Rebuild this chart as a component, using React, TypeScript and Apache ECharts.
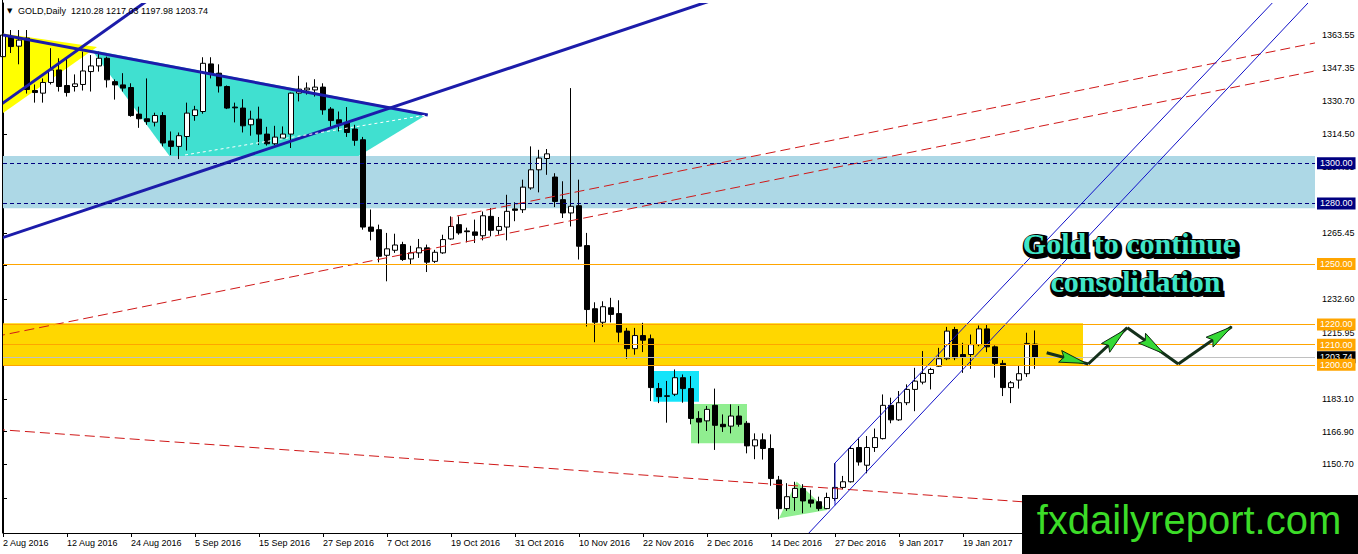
import React, { useEffect, useRef } from 'react';
import * as echarts from 'echarts';

// ---------- data ----------
const dateLabels = ['2 Aug 2016', '12 Aug 2016', '24 Aug 2016', '5 Sep 2016', '15 Sep 2016', '27 Sep 2016', '7 Oct 2016', '19 Oct 2016', '31 Oct 2016', '10 Nov 2016', '22 Nov 2016', '2 Dec 2016', '14 Dec 2016', '27 Dec 2016', '9 Jan 2017', '19 Jan 2017'];
const BARS_PER_LABEL = 8;
const SLOT_COUNT = 165;

const opens = [
  1352.8, 1362.7, 1358.0, 1362.0, 1336.0, 1334.7, 1340.0, 1346.2, 1338.5, 1338.0,
  1339.0, 1345.4, 1348.2, 1352.0, 1340.4, 1338.8, 1337.5, 1324.3, 1322.0, 1320.3,
  1323.6, 1311.0, 1308.3, 1313.2, 1323.6, 1325.6, 1349.2, 1344.6, 1338.0, 1327.8,
  1327.3, 1319.0, 1321.8, 1314.4, 1309.6, 1312.4, 1314.4, 1334.7, 1336.3, 1336.3,
  1337.7, 1326.8, 1321.5, 1320.2, 1316.9, 1311.6, 1268.3, 1267.0, 1254.3, 1256.8,
  1259.6, 1252.5, 1255.5, 1258.0, 1251.3, 1255.5, 1262.4, 1269.5, 1266.4, 1265.9,
  1264.0, 1273.6, 1266.7, 1268.3, 1277.3, 1276.9, 1287.7, 1296.7, 1302.3, 1293.1,
  1281.9, 1275.3, 1278.9, 1259.1, 1227.8, 1221.1, 1228.3, 1225.4, 1216.7, 1208.0,
  1214.5, 1212.9, 1188.2, 1184.6, 1185.4, 1193.6, 1188.2, 1173.4, 1172.2, 1179.9,
  1170.5, 1169.6, 1174.6, 1171.0, 1159.8, 1162.8, 1158.5, 1142.9, 1128.7, 1134.2,
  1138.7, 1133.0, 1132.1, 1128.7, 1133.7, 1139.2, 1142.0, 1159.0, 1150.2, 1159.0,
  1163.4, 1179.9, 1172.7, 1181.2, 1187.8, 1191.4, 1195.7, 1199.3, 1203.0, 1217.5,
  1205.1, 1205.1, 1210.0, 1217.8, 1208.9, 1200.7, 1188.7, 1192.4, 1195.6, 1210.28,
];
const closes = [
  1363.5, 1357.8, 1361.0, 1336.5, 1335.0, 1340.0, 1346.2, 1338.0, 1335.0, 1339.3,
  1345.7, 1348.2, 1352.0, 1341.3, 1338.8, 1337.2, 1323.6, 1322.0, 1320.6, 1323.6,
  1310.0, 1308.3, 1313.6, 1324.8, 1326.4, 1349.5, 1344.6, 1338.3, 1327.3, 1327.4,
  1318.5, 1321.8, 1314.4, 1309.6, 1312.9, 1314.4, 1334.7, 1336.7, 1337.2, 1337.7,
  1326.4, 1321.1, 1319.5, 1315.2, 1311.3, 1268.3, 1266.2, 1253.8, 1257.5, 1259.4,
  1252.2, 1255.5, 1258.0, 1250.9, 1255.8, 1262.1, 1268.6, 1265.4, 1266.0, 1264.2,
  1273.9, 1266.7, 1268.6, 1276.1, 1276.6, 1288.1, 1296.7, 1302.5, 1304.6, 1281.0,
  1275.3, 1278.6, 1258.8, 1227.4, 1221.1, 1228.8, 1225.0, 1216.2, 1208.0, 1214.5,
  1212.2, 1188.7, 1184.2, 1184.4, 1193.6, 1188.2, 1173.4, 1171.6, 1177.9, 1170.0,
  1169.3, 1174.6, 1170.5, 1159.8, 1162.8, 1158.5, 1143.6, 1128.7, 1134.6, 1138.7,
  1132.5, 1131.4, 1128.7, 1134.2, 1139.2, 1142.0, 1158.5, 1151.8, 1159.0, 1163.9,
  1179.9, 1172.7, 1181.2, 1187.8, 1191.9, 1195.7, 1197.7, 1203.0, 1216.7, 1203.5,
  1203.9, 1210.0, 1217.8, 1208.9, 1200.7, 1188.7, 1191.1, 1195.6, 1210.6, 1203.74,
];
const lows = [
  1347.0, 1354.6, 1349.0, 1334.5, 1330.0, 1330.0, 1339.0, 1335.5, 1333.0, 1335.5,
  1336.0, 1335.5, 1345.4, 1337.5, 1331.5, 1335.5, 1323.0, 1317.5, 1319.0, 1318.2,
  1308.3, 1304.0, 1302.0, 1306.3, 1321.0, 1324.5, 1342.0, 1335.0, 1326.8, 1320.2,
  1315.2, 1313.6, 1309.0, 1308.7, 1309.0, 1312.0, 1307.5, 1330.6, 1334.0, 1333.0,
  1324.0, 1318.0, 1315.7, 1313.0, 1308.6, 1267.0, 1261.7, 1250.8, 1241.4, 1255.5,
  1251.5, 1249.7, 1253.0, 1246.0, 1250.5, 1255.0, 1262.0, 1264.5, 1260.7, 1260.4,
  1261.7, 1263.7, 1264.5, 1261.7, 1271.2, 1275.3, 1286.8, 1285.5, 1294.2, 1278.2,
  1272.8, 1268.6, 1252.2, 1219.0, 1211.2, 1218.8, 1221.0, 1211.2, 1203.0, 1205.0,
  1206.3, 1182.0, 1181.0, 1171.3, 1184.5, 1181.2, 1170.5, 1161.0, 1167.2, 1157.8,
  1166.7, 1166.0, 1169.3, 1156.1, 1153.2, 1153.0, 1140.0, 1123.4, 1127.6, 1127.6,
  1126.4, 1129.3, 1127.6, 1128.4, 1132.5, 1138.3, 1141.6, 1150.0, 1146.2, 1156.8,
  1163.0, 1171.0, 1172.2, 1180.0, 1177.0, 1190.3, 1187.8, 1199.0, 1202.3, 1202.3,
  1196.0, 1198.0, 1209.2, 1206.3, 1193.6, 1184.5, 1181.0, 1188.2, 1194.0, 1197.98,
];
const highs = [
  1366.0, 1366.0, 1366.0, 1366.0, 1339.0, 1342.0, 1357.0, 1352.0, 1352.0, 1344.0,
  1355.3, 1353.6, 1355.3, 1352.8, 1341.5, 1344.6, 1339.6, 1328.0, 1342.0, 1325.0,
  1325.3, 1315.7, 1315.2, 1330.0, 1328.4, 1352.5, 1352.5, 1349.0, 1338.5, 1330.0,
  1331.7, 1326.0, 1328.0, 1318.0, 1318.5, 1318.2, 1335.0, 1343.3, 1340.0, 1341.6,
  1339.6, 1327.8, 1325.6, 1327.8, 1319.0, 1313.0, 1277.0, 1269.5, 1265.4, 1265.0,
  1261.0, 1259.0, 1262.4, 1259.6, 1257.0, 1264.5, 1273.6, 1273.6, 1268.0, 1272.0,
  1276.0, 1277.7, 1273.3, 1284.3, 1280.6, 1291.8, 1308.3, 1306.6, 1307.0, 1295.0,
  1291.0, 1337.2, 1291.8, 1265.4, 1231.0, 1231.5, 1233.2, 1232.0, 1218.3, 1218.3,
  1220.8, 1215.0, 1191.0, 1192.0, 1197.7, 1195.2, 1194.4, 1177.0, 1179.6, 1188.2,
  1175.4, 1180.4, 1179.6, 1172.1, 1166.0, 1166.0, 1165.5, 1144.9, 1141.3, 1142.0,
  1140.8, 1138.0, 1134.6, 1136.6, 1151.2, 1144.9, 1159.8, 1163.9, 1164.7, 1168.4,
  1185.3, 1183.7, 1187.0, 1190.3, 1198.5, 1206.8, 1198.5, 1208.4, 1218.8, 1218.8,
  1210.9, 1215.0, 1219.5, 1219.9, 1209.6, 1202.3, 1192.0, 1199.7, 1215.9, 1217.03,
];

const priceTicks = [1363.55, 1347.35, 1330.7, 1314.5, 1297.85, 1265.45, 1249.25, 1232.6, 1215.95, 1183.1, 1166.9, 1150.7, 1134.05];
const Y_MIN = 1116.6;
const Y_MAX = 1379.4;

// horizontal levels (price, kind)
const levelValues = [1300, 1280, 1250, 1220, 1210, 1203.74, 1200];
const levelKinds = ['navy', 'navy', 'orange', 'orange', 'orange', 'bid', 'orange'];

// drawn zones in [bar index, price]
const zones = [
  { name: 'yellow', pts: [[-0.5, 1364.5], [11.75, 1357.6], [-0.5, 1323.4]] },
  { name: 'turquoise', pts: [[11.1, 1356.1], [53.1, 1324.4], [44.25, 1303.1], [20.9, 1303.1]] },
  { name: 'lightblue', pts: [[-1, 1303.56], [166, 1303.56], [166, 1277.63], [-1, 1277.63]] },
  { name: 'gold', pts: [[-1, 1220.6], [135, 1220.6], [135, 1199.6], [-1, 1199.6]] },
  { name: 'aqua', pts: [[81.3, 1196.9], [87.0, 1196.9], [87.0, 1181.7], [81.3, 1181.7]] },
  { name: 'lightgreen', pts: [[86.0, 1180.6], [93.0, 1180.6], [93.0, 1161.1], [86.0, 1161.1]] },
  { name: 'lightgreen', pts: [[97.0, 1123.9], [99.2, 1142.1], [103.0, 1128.0]] },
];
const zoneColors: Record<string, string> = {
  yellow: '#FFFF00',
  turquoise: '#40E0D0',
  lightblue: '#ADD8E6',
  gold: '#FFD700',
  aqua: '#14E4FA',
  lightgreen: '#90EE90',
};

// trend lines in [bar index, price]
const trendLines = [
  { kind: 'blueThick', pts: [[0, 1363.55], [53.1, 1323.9]] },
  { kind: 'blueThick', pts: [[-1, 1261.8], [95, 1389.2]] },
  { kind: 'blueThick', pts: [[-1, 1327.0], [20, 1386.1]] },
  { kind: 'redDash', pts: [[-1, 1214.0], [166, 1347.3]] },
  { kind: 'redDash', pts: [[56.125, 1268.35], [56.125, 1273.3], [166, 1361.2]] },
  { kind: 'redDash', pts: [[-1, 1168.0], [166, 1121.3]] },
  { kind: 'blueThin', pts: [[104, 1130.3], [104, 1151.3], [160, 1385.0]] },
  { kind: 'blueThin', pts: [[100.0, 1113.5], [164, 1383.1]] },
  { kind: 'whiteDash', pts: [[22.75, 1304.05], [53, 1323.9]] },
];
const lineStyles: Record<string, any> = {
  blueThick: { stroke: '#1C1CAA', lineWidth: 3 },
  redDash: { stroke: '#D01818', lineWidth: 1, lineDash: [10, 5] },
  blueThin: { stroke: '#1010C8', lineWidth: 1 },
  whiteDash: { stroke: '#FFFFFF', lineWidth: 1, lineDash: [3, 3] },
};

// projected zig-zag path
const zigzagIdx = [130.46, 135.66, 140.54, 146.91, 153.59];
const zigzagPrice = [1206.0, 1200.4, 1218.4, 1200.4, 1218.9];
const arrowTipAt = [0.95, 0.95, 0.72, 1.0];

// ---------- option ----------
const categories = Array.from({ length: SLOT_COUNT }, (_, i) =>
  i % BARS_PER_LABEL === 0 && dateLabels[i / BARS_PER_LABEL] ? dateLabels[i / BARS_PER_LABEL] : ''
);
const candleData = opens.map((o, i) => [o, closes[i], lows[i], highs[i]]);

const FONT = '"Liberation Sans", Arial, sans-serif';

const levelLook: Record<string, any> = {
  navy: { line: { color: '#000080', type: [4, 3], width: 1 }, bg: '#000080' },
  orange: { line: { color: '#FFA500', type: 'solid', width: 1 }, bg: '#FFA500' },
  bid: { line: { color: '#C0C0C0', type: 'solid', width: 1 }, bg: '#000000' },
};

function buildOption(): any {
  return {
    animation: false,
    backgroundColor: '#ffffff',
    grid: { left: 3, right: 43, top: 3, bottom: 21 },
    xAxis: [
      {
        type: 'category',
        data: categories,
        boundaryGap: false,
        axisLine: { lineStyle: { color: '#000', width: 1 } },
        axisTick: { interval: (i: number) => i % BARS_PER_LABEL === 0, length: 4, lineStyle: { color: '#000' } },
        axisLabel: {
          interval: (i: number) => i % BARS_PER_LABEL === 0,
          align: 'left',
          margin: 5,
          fontSize: 9,
          fontFamily: FONT,
          color: '#000',
        },
        splitLine: { show: false },
      },
      { type: 'value', min: 0, max: SLOT_COUNT - 1, show: false },
    ],
    yAxis: {
      type: 'value',
      position: 'right',
      min: Y_MIN,
      max: Y_MAX,
      axisLine: { show: true, lineStyle: { color: '#000', width: 1 } },
      axisTick: { show: true, length: 4, customValues: priceTicks, lineStyle: { color: '#000' } },
      axisLabel: {
        customValues: priceTicks,
        formatter: (v: number) => v.toFixed(2),
        margin: 7,
        fontSize: 9,
        fontFamily: FONT,
        color: '#000',
      },
      splitLine: { show: false },
    },
    series: [
      {
        type: 'custom',
        xAxisIndex: 1,
        yAxisIndex: 0,
        z: 1,
        silent: true,
        clip: true,
        data: zones.map(() => [0, 1200]),
        renderItem: (params: any, api: any) => {
          const zone = zones[params.dataIndex];
          return {
            type: 'polygon',
            shape: { points: zone.pts.map((p) => api.coord(p)) },
            style: { fill: zoneColors[zone.name] },
          };
        },
      },
      {
        type: 'line',
        xAxisIndex: 1,
        yAxisIndex: 0,
        z: 2,
        data: [[0, 1200]],
        symbol: 'none',
        showSymbol: false,
        lineStyle: { opacity: 0 },
        silent: true,
        clip: false,
        markLine: {
          silent: true,
          symbol: ['none', 'none'],
          emphasis: { disabled: true },
          data: levelValues.map((v, i) => ({
            yAxis: v,
            lineStyle: levelLook[levelKinds[i]].line,
            label: {
              show: true,
              position: 'end',
              distance: 2,
              formatter: v.toFixed(2),
              color: '#fff',
              backgroundColor: levelLook[levelKinds[i]].bg,
              padding: [1, 3, 0, 3],
              fontSize: 9,
              lineHeight: 11,
              fontFamily: FONT,
            },
          })),
        },
      },
      {
        type: 'candlestick',
        xAxisIndex: 0,
        yAxisIndex: 0,
        z: 3,
        barWidth: 5,
        data: candleData,
        itemStyle: {
          color: '#ffffff',
          color0: '#000000',
          borderColor: '#000000',
          borderColor0: '#000000',
          borderWidth: 1,
        },
        silent: true,
      },
      {
        type: 'custom',
        xAxisIndex: 1,
        yAxisIndex: 0,
        z: 4,
        silent: true,
        clip: true,
        data: trendLines.map(() => [0, 1200]),
        renderItem: (params: any, api: any) => {
          const tl = trendLines[params.dataIndex];
          return {
            type: 'polyline',
            shape: { points: tl.pts.map((p) => api.coord(p)) },
            style: { fill: null, ...lineStyles[tl.kind] },
          };
        },
      },
      {
        type: 'custom',
        xAxisIndex: 1,
        yAxisIndex: 0,
        z: 5,
        silent: true,
        clip: false,
        data: [[0, 1200]],
        renderItem: (params: any, api: any) => {
          const pts = zigzagIdx.map((x, i) => api.coord([x, zigzagPrice[i]]));
          const children: any[] = [];
          for (let k = 0; k < pts.length - 1; k++) {
            const a = pts[k];
            const b = pts[k + 1];
            children.push({
              type: 'line',
              shape: { x1: a[0], y1: a[1], x2: b[0], y2: b[1] },
              style: { stroke: '#14301A', lineWidth: 3 },
            });
          }
          for (let k = 0; k < pts.length - 1; k++) {
            const a = pts[k];
            const b = pts[k + 1];
            const dx = b[0] - a[0];
            const dy = b[1] - a[1];
            const len = Math.sqrt(dx * dx + dy * dy);
            const ux = dx / len;
            const uy = dy / len;
            const t = arrowTipAt[k];
            const tip = [a[0] + dx * t, a[1] + dy * t];
            const L = 27;
            const W = 6;
            const base = [tip[0] - ux * L, tip[1] - uy * L];
            const nx = -uy;
            const ny = ux;
            children.push({
              type: 'polygon',
              shape: {
                points: [
                  tip,
                  [base[0] + nx * W, base[1] + ny * W],
                  [base[0] + ux * 4, base[1] + uy * 4],
                  [base[0] - nx * W, base[1] - ny * W],
                ],
              },
              style: { fill: '#36D936', stroke: '#0E2A12', lineWidth: 1 },
            });
          }
          return { type: 'group', children };
        },
      },
    ],
    graphic: [
      {
        type: 'line',
        shape: { x1: 2.5, y1: 0, x2: 2.5, y2: 533 },
        style: { stroke: '#000', lineWidth: 1 },
        z: 50,
        silent: true,
      },
      {
        type: 'text',
        x: 7,
        y: 10.5,
        style: { text: '▼', font: '7px "DejaVu Sans", sans-serif', fill: '#000', verticalAlign: 'middle' },
        z: 50,
        silent: true,
      },
      {
        type: 'text',
        x: 18,
        y: 10.5,
        style: {
          text: 'GOLD,Daily  1210.28 1217.03 1197.98 1203.74',
          font: '9px ' + FONT,
          fill: '#000',
          verticalAlign: 'middle',
        },
        z: 50,
        silent: true,
      },
      // headline text (outline + fill)
      {
        type: 'text', x: 1131, y: 245,
        style: { text: 'Gold to continue', font: 'bold 30px "Liberation Serif", serif', fill: '#000', stroke: '#000', lineWidth: 6, align: 'center', verticalAlign: 'middle' },
        z: 60, silent: true,
      },
      {
        type: 'text', x: 1129.5, y: 243.5,
        style: { text: 'Gold to continue', font: 'bold 30px "Liberation Serif", serif', fill: '#40E6C8', align: 'center', verticalAlign: 'middle' },
        z: 61, silent: true,
      },
      {
        type: 'text', x: 1137, y: 283,
        style: { text: 'consolidation', font: 'bold 30px "Liberation Serif", serif', fill: '#000', stroke: '#000', lineWidth: 6, align: 'center', verticalAlign: 'middle' },
        z: 60, silent: true,
      },
      {
        type: 'text', x: 1135.5, y: 281.5,
        style: { text: 'consolidation', font: 'bold 30px "Liberation Serif", serif', fill: '#40E6C8', align: 'center', verticalAlign: 'middle' },
        z: 61, silent: true,
      },
      // watermark box
      {
        type: 'rect',
        shape: { x: 1022, y: 495, width: 336, height: 59 },
        style: { fill: '#000' },
        z: 70,
        silent: true,
      },
      {
        type: 'text',
        x: 1189,
        y: 520,
        style: { text: 'fxdailyreport.com', font: '40px ' + FONT, fill: '#3CDC28', align: 'center', verticalAlign: 'middle' },
        z: 71,
        silent: true,
      },
    ],
  };
}

export default function App() {
  const ref = useRef<HTMLDivElement>(null);
  useEffect(() => {
    document.body.style.margin = '0';
    const chart = echarts.init(ref.current as HTMLDivElement, null, { renderer: 'svg' });
    chart.setOption(buildOption());
    return () => {
      chart.dispose();
    };
  }, []);
  return (
    <div
      ref={ref}
      style={{ position: 'absolute', left: 0, top: 0, width: 1358, height: 554, background: '#fff' }}
    />
  );
}
